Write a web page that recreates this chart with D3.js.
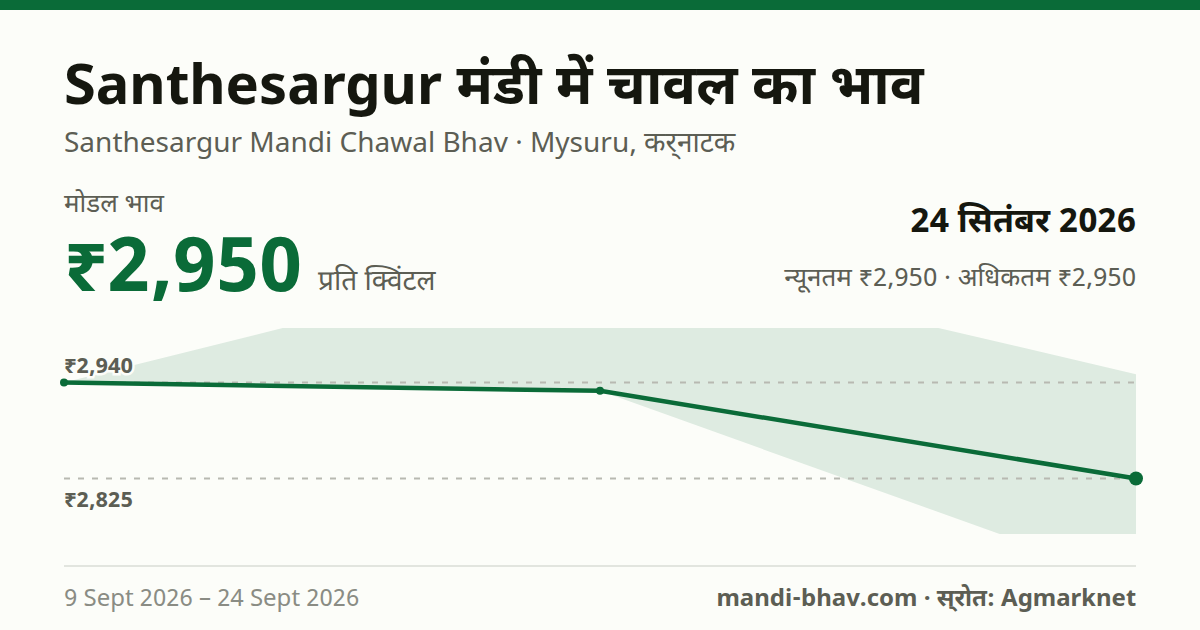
<!DOCTYPE html>
<html><head><meta charset="utf-8"><script src="https://cdn.jsdelivr.net/npm/d3@7"></script>
<style>html,body{margin:0;padding:0;background:#fcfdf9}svg{display:block}text{font-family:"Noto Sans Devanagari","Noto Sans",sans-serif}</style></head>
<body><svg id="c" width="1200" height="630"></svg>
<script>
const pointX=[0,1,2];
const modalValues=[2940,2930,2825];
const bandHigh=[2940,3100,2950];
const bandLow=[2940,2930,2700];
const gridValues=[2940,2825];
const gridLabels=["₹2,940","₹2,825"];
const svg=d3.select("#c");
const ink="#15170f",muted="#5c5e54",green="#0a6b38",bg="#fcfdf9";
const x=d3.scaleLinear().domain([0,2]).range([64,1136]);
const y=d3.scaleLinear().domain([2825,2940]).range([478.5,382.5]);
svg.append("rect").attr("width",1200).attr("height",630).attr("fill",bg);
svg.append("rect").attr("width",1200).attr("height",10).attr("fill",green);
svg.append("clipPath").attr("id","plot").append("rect").attr("x",64).attr("y",328).attr("width",1072).attr("height",206);
function t(s,xp,yp,size,weight,fill,anchor){return svg.append("text").attr("x",xp).attr("y",yp).attr("font-size",size).attr("font-weight",weight).attr("fill",fill).attr("text-anchor",anchor||"start").text(s)}
t("Santhesargur मंडी में चावल का भाव",64,104,56,700,ink);
t("Santhesargur Mandi Chawal Bhav · Mysuru, कर्\u200cनाटक",64,152,28,400,muted);
t("मोडल भाव",64,212,26,400,muted);
t("₹2,950",64,291,76,700,green);
t("प्रति क्विंटल",318,290,28,400,muted);
t("24 सितंबर 2026",1136,232,34,700,ink,"end");
t("न्यूनतम ₹2,950 · अधिकतम ₹2,950",1136,286,26,400,muted,"end");
const area=d3.area().x((d,i)=>x(pointX[i])).y0((d,i)=>y(bandLow[i])).y1((d,i)=>y(bandHigh[i]));
svg.append("path").attr("d",area(pointX)).attr("fill",green).attr("opacity",0.12).attr("clip-path","url(#plot)");
gridValues.forEach(v=>svg.append("line").attr("x1",64).attr("x2",1136).attr("y1",y(v)).attr("y2",y(v)).attr("stroke","#b8b9b1").attr("stroke-width",2).attr("stroke-dasharray","6 8"));
const line=d3.line().x((d,i)=>x(pointX[i])).y(d=>y(d));
svg.append("path").attr("d",line(modalValues)).attr("fill","none").attr("stroke",green).attr("stroke-width",4.5);
modalValues.forEach((v,i)=>svg.append("circle").attr("cx",x(pointX[i])).attr("cy",y(v)).attr("r",i==2?7:4).attr("fill",green));
t(gridLabels[0],64,373,22,700,muted).attr("stroke",bg).attr("stroke-width",5).attr("paint-order","stroke");
t(gridLabels[1],64,507,22,700,muted).attr("stroke",bg).attr("stroke-width",5).attr("paint-order","stroke");
svg.append("line").attr("x1",64).attr("x2",1136).attr("y1",566).attr("y2",566).attr("stroke","#e2e5df").attr("stroke-width",2);
t("9 Sept 2026 – 24 Sept 2026",64,606,24,400,"#8a8c84");
t("mandi-bhav.com · स्\u200cरोत: Agmarknet",1136,606,24,700,muted,"end");
</script></body></html>
